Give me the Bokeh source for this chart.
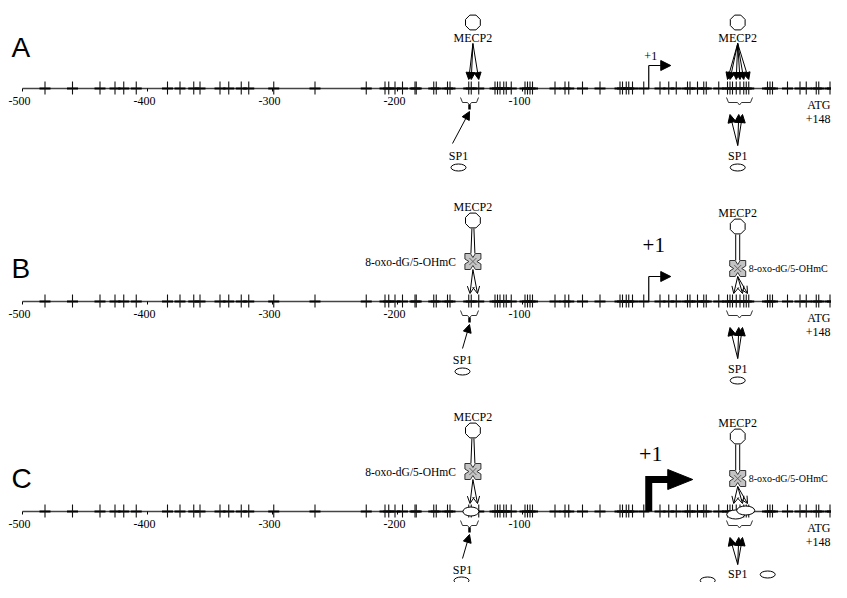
import numpy as np
from bokeh.plotting import figure
from bokeh.models import ColumnDataSource, Range1d, Arrow, NormalHead, OpenHead
from bokeh.core.properties import value
from bokeh.embed import file_html
from bokeh.resources import INLINE

# ---------------- data ----------------
cpg_sites = [-482, -460, -438, -426, -419, -409, -384, -374, -363, -358, -342, -335,
             -325, -319, -299, -266, -225, -210, -207, -202, -196, -186, -185, -171,
             -169, -160, -158, -143, -141, -135, -122, -120, -118, -115, -113, -109,
             -98, -96, -94, -92, -74, -66, -63, -52, -38, -22, -20, -17, -15, -12, -3,
             10, 17, 23, 32, 34, 40, 45, 47, 57, 64, 66, 68, 71, 74, 77, 79, 81, 96,
             98, 100, 112, 122, 127, 135, 137, 146, 148]
axis_start = -500
axis_end = 148
tick_values = [-500, -400, -300, -200, -100]
tick_labels = ["-500", "-400", "-300", "-200", "-100"]
tss = 1
end_labels = ["ATG", "+148"]
panels = ["A", "B", "C"]
region1_sites = [-143, -141, -135]          # MECP2 targets, site 1 (panel A)
region2_sites = [64, 66, 71, 74, 77, 81]    # MECP2 targets, site 2 (panel A)
region1_span = [-149.6, -135.2]             # SP1 binding region 1
region2_span = [63.2, 84.0]                 # SP1 binding region 2
mod_targets1 = [-142, -136]
mod_targets2 = [69, 76, 80]
sp1_targets2 = [66, 73, 76]
mod_label = "8-oxo-dG/5-OHmC"
protein_labels = ["MECP2", "SP1"]

# ---------------- layout ----------------
PXBP = 1.25                      # screen px per bp
def px(d):
    return d / PXBP

W, H = 831, 582
baselines = [88, 301, 511]
letter_dy = [-41, -33, -33]
SERIF = value("Liberation Serif")
SANS = value("Liberation Sans")

x_lo = axis_start - 22 / PXBP
p = figure(width=W, height=H, x_range=Range1d(x_lo, x_lo + W / PXBP), y_range=Range1d(H, 0),
           x_axis_type=None, y_axis_type=None, output_backend="svg",
           toolbar_location=None, min_border=0, outline_line_color=None,
           background_fill_color="white", border_fill_color="white")
p.grid.visible = False


def txt(x, y, s, size, align="center", font=SERIF, x_offset=0):
    p.text(x=[x], y=[y], text=[s], text_font=font, text_font_size=f"{size}px",
           text_align=align, text_baseline="middle", text_color="black", x_offset=x_offset)


def octagon(xc, yc, r=8):
    ang = np.deg2rad(22.5 + 45 * np.arange(8))
    p.patch(xc + r * np.cos(ang) / PXBP, yc + r * np.sin(ang),
            fill_color="white", line_color="black", line_width=1)


def mod_marker(xc, yc, s=8, w=2.5, d=4):
    pts = [(-s, -s), (-w, -s), (0, -s + d), (w, -s), (s, -s), (s, -w), (s - d, 0), (s, w),
           (s, s), (w, s), (0, s - d), (-w, s), (-s, s), (-s, w), (-s + d, 0), (-s, -w)]
    p.patch([xc + px(a) for a, b in pts], [yc + b for a, b in pts],
            fill_color="#c4c4c4", line_color="#333333", line_width=1)
    p.scatter([xc], [yc], marker="x", size=10, line_color="#666666", line_width=1)


def ellipse(xs, ys, w=15, h=7):
    p.ellipse(x=xs, y=ys, width=px(w), height=h, fill_color="white",
              line_color="black", line_width=1)


def brace(a, b, y0, thick_stem):
    c = (a + b) / 2
    yt, yb = y0 + 9, y0 + 14
    xs = [a, a + px(2), c - px(2), c, c + px(2), b - px(2), b]
    ys = [yt, yb, yb, yb + 2.5, yb, yb, yt]
    p.line(xs, ys, line_color="#333333", line_width=1)
    if thick_stem:
        p.line([c, c], [yb + 2, yb + 7], line_color="black", line_width=2.5)
    return c


def arrows(xs, ys, xe, ye, head, lw=1):
    src = ColumnDataSource(dict(xs=xs, ys=ys, xe=xe, ye=ye))
    p.add_layout(Arrow(x_start="xs", y_start="ys", x_end="xe", y_end="ye", source=src,
                       end=head, line_width=lw, line_color="black"))


def nhead(size=7):
    return NormalHead(size=size, fill_color="black", line_color="black", line_width=1)


def ohead(size=7):
    return OpenHead(size=size, line_color="black", line_width=1)


hub1 = float(np.mean(region1_sites))
hub2 = float(np.mean(region2_sites))

for name, y0, ldy in zip(panels, baselines, letter_dy):
    n = len(cpg_sites)
    # axis line and CpG ticks
    p.segment(x0=[axis_start], y0=[y0], x1=[axis_end], y1=[y0], line_color="#444444", line_width=1.3)
    p.scatter(cpg_sites, [y0] * n, marker="dash", size=11, line_color="black", line_width=2)
    p.segment(x0=cpg_sites, y0=[y0 - 7] * n, x1=cpg_sites, y1=[y0 + 6] * n,
              line_color="#111111", line_width=1.1)
    p.segment(x0=tick_values, y0=[y0] * len(tick_values), x1=tick_values,
              y1=[y0 + 3] * len(tick_values), line_color="black", line_width=1)
    p.text(x=tick_values, y=[y0 + 12] * len(tick_values), text=tick_labels, text_font=SERIF,
           text_font_size="12px", text_align="center", text_baseline="middle", x_offset=-3)
    txt(axis_end, y0 + 16, end_labels[0], 12, align="right", x_offset=-2)
    txt(axis_end, y0 + 30, end_labels[1], 12, align="right", x_offset=-2)
    # panel letter
    txt(axis_start, y0 + ldy, name, 28, align="left", font=SANS, x_offset=-11)

    c1 = brace(region1_span[0], region1_span[1], y0, True)
    c2 = brace(region2_span[0], region2_span[1], y0, False)

    if name == "A":
        # MECP2 site 1
        octagon(hub1, y0 - 66)
        txt(hub1, y0 - 51, protein_labels[0], 12)
        k = len(region1_sites)
        arrows([hub1] * k, [y0 - 45] * k, region1_sites, [y0 - 9] * k, nhead())
        # MECP2 site 2
        octagon(hub2, y0 - 66)
        txt(hub2, y0 - 51, protein_labels[0], 12)
        k = len(region2_sites)
        arrows([hub2] * k, [y0 - 45] * k, region2_sites, [y0 - 9] * k, nhead())
        # SP1 site 1
        arrows([c1 - px(17)], [y0 + 55], [c1], [y0 + 23], nhead(8))
        txt(c1 - px(11), y0 + 67, protein_labels[1], 12)
        ellipse([c1 - px(11)], [y0 + 79])
        # SP1 site 2
        k = len(sp1_targets2)
        arrows([hub2] * k, [y0 + 57] * k, sp1_targets2, [y0 + 26] * k, nhead(8))
        txt(hub2, y0 + 67, protein_labels[1], 12)
        ellipse([hub2], [y0 + 79])
        # TSS
        p.line([tss, tss], [y0, y0 - 23], line_color="black", line_width=1.2)
        arrows([tss], [y0 - 23], [tss + px(22)], [y0 - 23], nhead(10), lw=1.2)
        txt(tss + px(2), y0 - 33, "+1", 12)
    else:
        # MECP2 site 1 with modification
        txt(hub1, y0 - 95, protein_labels[0], 12)
        octagon(hub1, y0 - 81)
        p.segment(x0=[hub1 - px(1), hub1 + px(1)], y0=[y0 - 73] * 2,
                  x1=[hub1 - px(2), hub1 + px(2)], y1=[y0 - 48] * 2, line_color="black", line_width=1)
        mod_marker(hub1, y0 - 40)
        txt(hub1 - px(17), y0 - 40, mod_label, 11.5, align="right")
        k = len(mod_targets1)
        arrows([hub1] * k, [y0 - 32] * k, mod_targets1, [y0 - 8] * k, ohead())
        # MECP2 site 2 with modification
        txt(hub2, y0 - 89, protein_labels[0], 12)
        octagon(hub2, y0 - 75)
        p.segment(x0=[hub2 - px(2), hub2 + px(2)], y0=[y0 - 67] * 2,
                  x1=[hub2 - px(2), hub2 + px(2)], y1=[y0 - 41] * 2, line_color="black", line_width=1)
        mod_marker(hub2, y0 - 33)
        txt(hub2 + px(11), y0 - 33, mod_label, 10, align="left")
        k = len(mod_targets2)
        arrows([hub2] * k, [y0 - 25] * k, mod_targets2, [y0 - 8] * k, ohead())
        # SP1 site 1
        arrows([c1 - px(7)], [y0 + 47], [c1], [y0 + 23], nhead(8))
        txt(c1 - px(7), y0 + 58, protein_labels[1], 12)
        sx1 = c1 - px(7)
        if name == "B":
            k = len(sp1_targets2)
            arrows([hub2] * k, [y0 + 57] * k, sp1_targets2, [y0 + 26] * k, nhead(8))
            txt(hub2, y0 + 67, protein_labels[1], 12)
            ellipse([sx1], [y0 + 70])
            ellipse([hub2], [y0 + 79])
            p.line([tss, tss], [y0, y0 - 25], line_color="black", line_width=1.2)
            arrows([tss], [y0 - 25], [tss + px(22)], [y0 - 25], nhead(10), lw=1.2)
            txt(tss + px(5), y0 - 57, "+1", 21)
        else:
            # SP1 site 2 (label kept inside the frame)
            k = len(sp1_targets2)
            arrows([hub2] * k, [y0 + 53] * k, sp1_targets2, [y0 + 26] * k, nhead(8))
            txt(hub2, y0 + 62, protein_labels[1], 12)
            # SP1 bound on DNA
            ellipse([hub1 - px(2)], [y0], w=16, h=9)
            ellipse([hub2 - px(2), hub2 + px(8)], [y0 + 3, y0 - 1], w=18, h=9)
            # free SP1 pools
            ellipse([sx1 - px(1), sx1 - px(21), sx1 + px(21)], [y0 + 69, y0 + 77, y0 + 77])
            ellipse([hub2 - px(30), hub2 + px(30), hub2 - px(1), hub2 + px(26), hub2 - px(16), hub2 + px(12)],
                    [y0 + 69, y0 + 63, y0 + 75, y0 + 76, y0 + 84, y0 + 84])
            # strong TSS arrow
            p.line([tss, tss, tss + px(20)], [y0, y0 - 32, y0 - 32], line_color="black",
                   line_width=7, line_join="miter")
            p.patch([tss + px(19), tss + px(44), tss + px(19)], [y0 - 42, y0 - 32, y0 - 22],
                    fill_color="black", line_color="black")
            txt(tss + px(2), y0 - 58, "+1", 22)

open("out.html", "w").write(file_html(p, INLINE))
